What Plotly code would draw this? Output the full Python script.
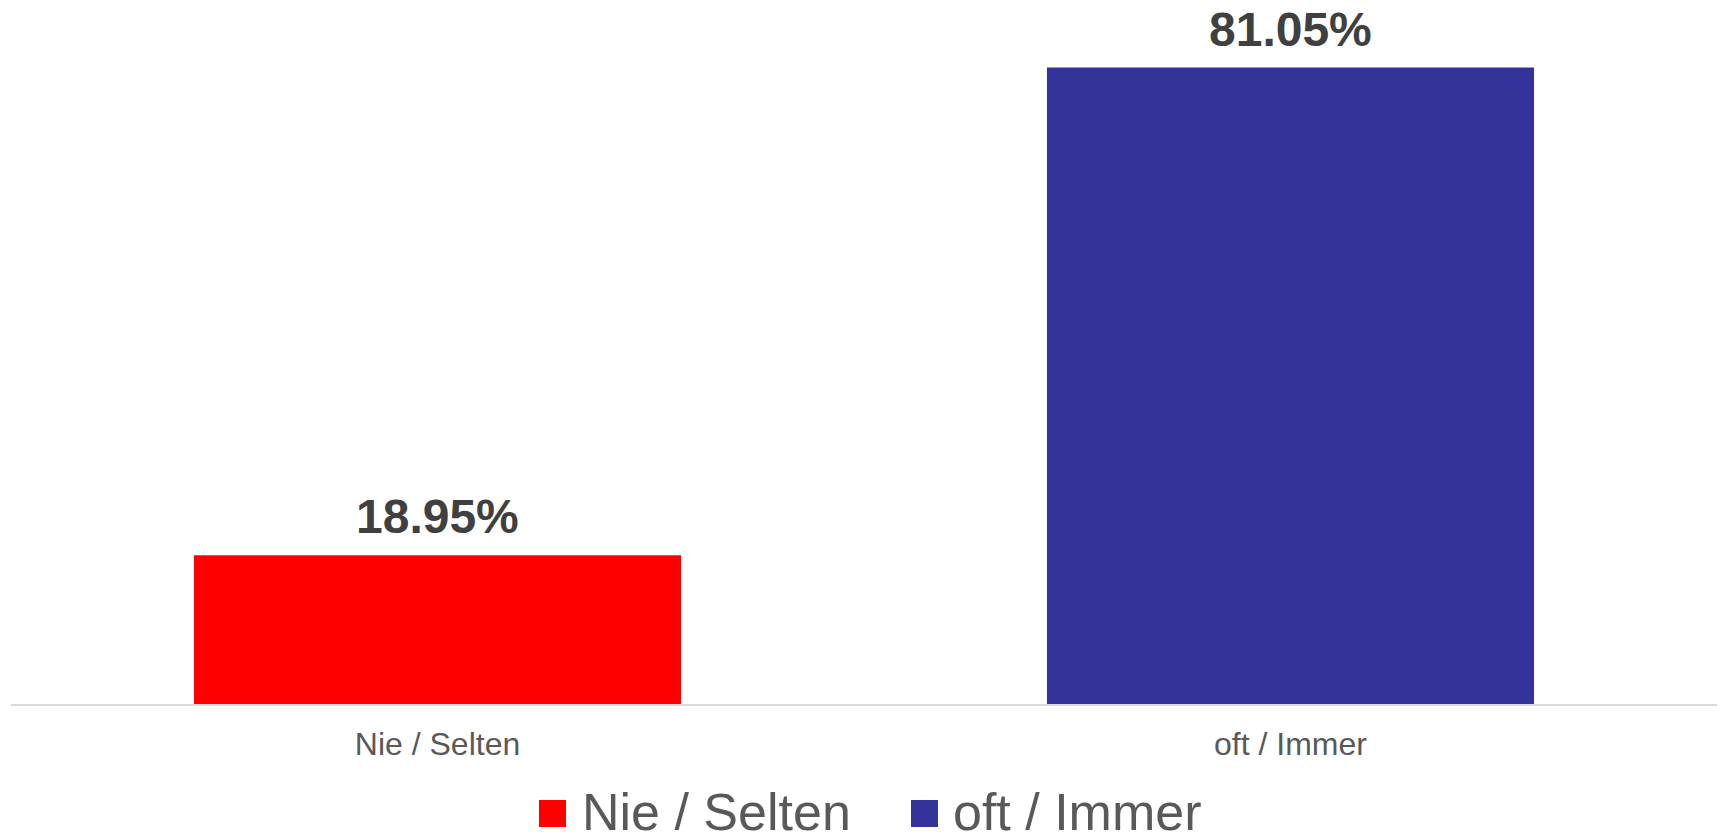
import plotly.graph_objects as go

categories = ["Nie / Selten", "oft / Immer"]
values = [18.95, 81.05]
colors = ["#FF0000", "#333399"]
label_texts = ["18.95%", "81.05%"]

W, H = 1721, 835
L, R, T, B = 11, 4, 20, 131
plot_w = W - L - R
plot_h = H - T - B

fig = go.Figure()
fig.add_trace(go.Bar(
    x=categories, y=values,
    marker=dict(color=colors, line=dict(width=0)),
    showlegend=False, hoverinfo="x+y",
))

# data labels
for c, v, t in zip(categories, values, label_texts):
    fig.add_annotation(
        x=c, y=v, xref="x", yref="y", text=t, showarrow=False,
        yanchor="middle", valign="middle", height=38, yshift=39,
        font=dict(family="Liberation Sans, Arial", size=48, color="#404040", weight="bold"),
    )

# legend (custom, large squares); positions given in page pixels
def px_to_paper_x(px):
    return (px - L) / plot_w

def py_to_paper_y(py):
    return (H - B - py) / plot_h

legend_items = [
    (categories[0], colors[0], 539, 580),
    (categories[1], colors[1], 911, 951),
]
for name, col, sx, tx in legend_items:
    fig.add_shape(
        type="rect", xref="paper", yref="paper",
        x0=px_to_paper_x(sx), x1=px_to_paper_x(sx + 27),
        y0=py_to_paper_y(827), y1=py_to_paper_y(800),
        fillcolor=col, line=dict(width=0),
    )
    fig.add_annotation(
        xref="paper", yref="paper", x=px_to_paper_x(tx), y=py_to_paper_y(812),
        xanchor="left", yanchor="middle", valign="middle", height=40,
        text=name, showarrow=False,
        font=dict(family="Liberation Sans, Arial", size=52, color="#595959"),
    )

fig.update_layout(
    width=W, height=H,
    margin=dict(l=L, r=R, t=T, b=B, pad=0),
    paper_bgcolor="white", plot_bgcolor="white",
    bargap=0.429,
    showlegend=False,
    font=dict(family="Liberation Sans, Arial", color="#595959"),
    xaxis=dict(
        showline=True, linecolor="#d9d9d9", linewidth=2,
        showgrid=False, zeroline=False, ticks="",
        tickfont=dict(size=32, color="#595959", family="Liberation Sans, Arial"),
        ticklabelstandoff=11,
    ),
    yaxis=dict(
        range=[0, 87.1], showgrid=False, zeroline=False, showline=False,
        showticklabels=False, ticks="",
    ),
)

fig.write_html(
    "out.html",
    config={"displayModeBar": False},
    post_script="document.body.style.margin='0';document.body.style.overflow='hidden';",
)
